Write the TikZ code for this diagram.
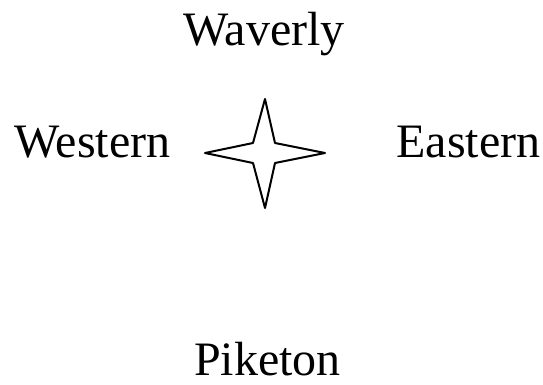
\documentclass[tikz,border=0pt]{standalone}
\usepackage{fontspec}
\setmainfont{Liberation Serif}
\usepackage{tikz}
\usetikzlibrary{positioning,calc}

\begin{document}
\begin{tikzpicture}[x=1pt,y=-1pt,
    place/.style={anchor=base,inner sep=0pt,font=\fontsize{48}{58}\selectfont}]
  \useasboundingbox (0,0) rectangle (543,384);

  % Place names
  \node[place] (waverly) at (264,45) {Waverly};
  \node[place] (western) at (92.5,157) {Western};
  \node[place] (eastern) at (468.5,157) {Eastern};
  \node[place] (piketon) at (267.5,375) {Piketon};

  % Compass star
  \coordinate (c) at (265,153);
  \draw[line width=2pt,line join=round]
    ($(c)+(0,-54)$) -- ($(c)+(10,-10)$) -- ($(c)+(60,0)$) -- ($(c)+(10,10)$)
    -- ($(c)+(0,55)$) -- ($(c)+(-12,10)$) -- ($(c)+(-60,0)$) -- ($(c)+(-12,-10)$)
    -- cycle;
\end{tikzpicture}
\end{document}
